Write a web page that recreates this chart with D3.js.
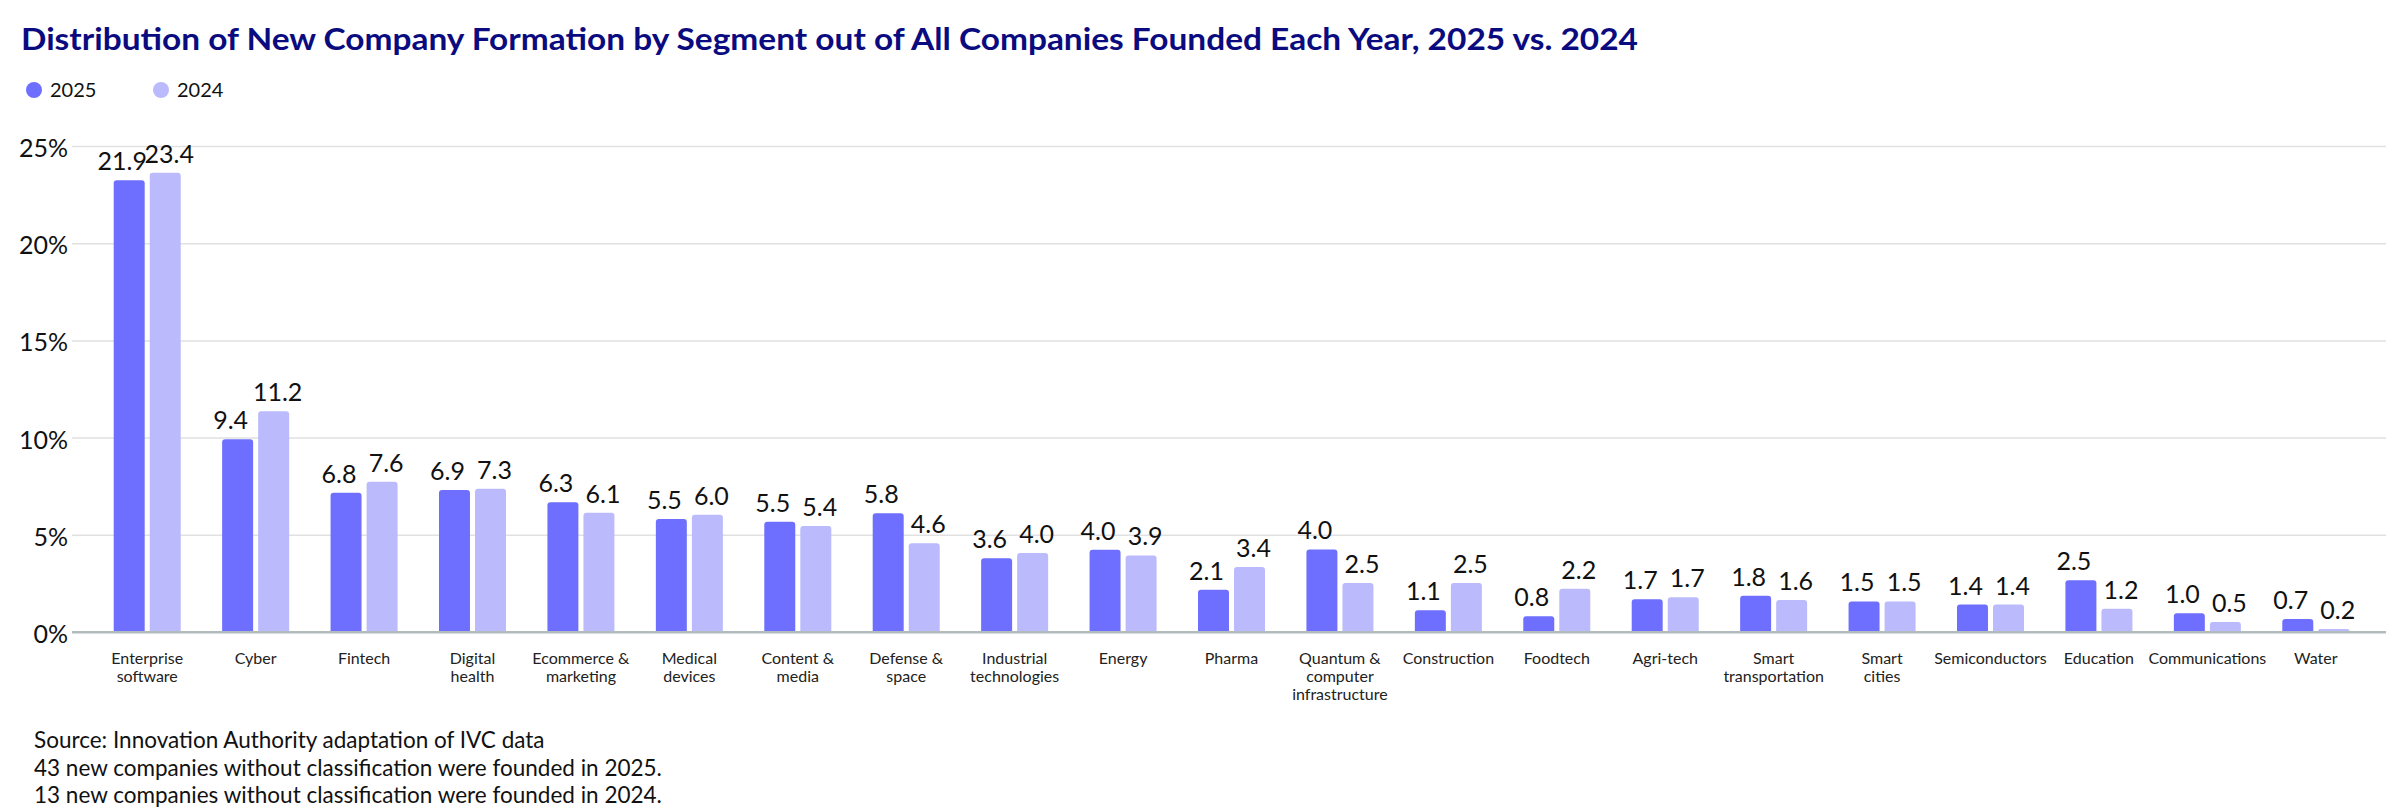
<!DOCTYPE html>
<html>
<head>
<meta charset="utf-8">
<script src="https://cdn.jsdelivr.net/npm/d3@7"></script>
<style>
  body { margin: 0; background: #fff; }
  svg { font-family: Lato, "Noto Sans", sans-serif; }
</style>
</head>
<body>
<svg id="chart"></svg>
<script>
//categories (| = line break)
var categories = ["Enterprise|software", "Cyber", "Fintech", "Digital|health", "Ecommerce &|marketing",
  "Medical|devices", "Content &|media", "Defense &|space", "Industrial|technologies", "Energy", "Pharma",
  "Quantum &|computer|infrastructure", "Construction", "Foodtech", "Agri-tech", "Smart|transportation",
  "Smart|cities", "Semiconductors", "Education", "Communications", "Water"];

//bar heights as drawn in the picture (%)
var values2025 = [23.24, 9.92, 7.16, 7.30, 6.67, 5.81, 5.67, 6.11, 3.79, 4.23, 2.17, 4.25, 1.12, 0.81, 1.69, 1.86, 1.57, 1.41, 2.66, 0.97, 0.67];
var values2024 = [23.62, 11.36, 7.73, 7.37, 6.13, 6.03, 5.45, 4.57, 4.06, 3.94, 3.35, 2.52, 2.52, 2.22, 1.79, 1.64, 1.57, 1.41, 1.19, 0.52, 0.16];

//printed value labels
var labels2025 = ["21.9", "9.4", "6.8", "6.9", "6.3", "5.5", "5.5", "5.8", "3.6", "4.0", "2.1", "4.0", "1.1", "0.8", "1.7", "1.8", "1.5", "1.4", "2.5", "1.0", "0.7"];
var labels2024 = ["23.4", "11.2", "7.6", "7.3", "6.1", "6.0", "5.4", "4.6", "4.0", "3.9", "3.4", "2.5", "2.5", "2.2", "1.7", "1.6", "1.5", "1.4", "1.2", "0.5", "0.2"];

var series = ["2025", "2024"];
var yTicks = [0, 5, 10, 15, 20, 25];

var title = "Distribution of New Company Formation by Segment out of All Companies Founded Each Year, 2025 vs. 2024";
var notes = ["Source: Innovation Authority adaptation of IVC data",
  "43 new companies without classification were founded in 2025.",
  "13 new companies without classification were founded in 2024."];

//canvas info
var width = 2400;
var height = 808;
var colors = {"2025": "#6f6fff", "2024": "#babafd"};

var svg = d3.select("#chart")
  .attr("width", width)
  .attr("height", height);

//title
svg.append("text")
  .attr("x", 21)
  .attr("y", 50)
  .attr("font-size", 31)
  .attr("font-weight", 700)
  .attr("fill", "#0b0b80")
  .attr("textLength", 1617)
  .attr("lengthAdjust", "spacingAndGlyphs")
  .text(title);

//legend
var legend = svg.append("g").selectAll("g")
  .data(series)
  .join("g")
  .attr("transform", function(d, i) { return "translate(" + (34 + i * 127) + ",90)"; });
legend.append("circle")
  .attr("r", 8)
  .attr("fill", function(d) { return colors[d]; });
legend.append("text")
  .attr("x", 16)
  .attr("dy", "0.36em")
  .attr("font-size", 20)
  .attr("fill", "#111")
  .text(function(d) { return d; });

//scales
var x = d3.scaleBand()
  .domain(categories)
  .range([93, 2370])
  .paddingInner(0.382)
  .paddingOuter(0.191);

var x1 = d3.scaleBand()
  .domain(series)
  .range([0, x.bandwidth()])
  .paddingInner(0.14);

var y = d3.scaleLinear()
  .domain([0, 25])
  .range([632, 146]);

//y axis + gridlines
var yAxis = svg.append("g")
  .attr("transform", "translate(72,0)")
  .call(d3.axisLeft(y).tickValues(yTicks).tickSize(-(2386 - 72)).tickPadding(4)
    .tickFormat(function(d) { return d + "%"; }));
yAxis.select(".domain").remove();
yAxis.selectAll("line")
  .attr("stroke", function(d) { return d == 0 ? "#b3bcbc" : "#e1e1e1"; })
  .attr("stroke-width", function(d) { return d == 0 ? 2 : 1.5; });
yAxis.selectAll("text")
  .attr("font-size", 25)
  .attr("font-family", "Lato, sans-serif")
  .attr("fill", "#111")
  .attr("dy", "0.42em");

//bar data
var rows = [];
for (var i = 0; i < categories.length; i++) {
  rows.push({cat: categories[i], key: "2025", v: values2025[i], label: labels2025[i]});
  rows.push({cat: categories[i], key: "2024", v: values2024[i], label: labels2024[i]});
}

//bar with rounded top corners
function barPath(d) {
  var x0 = x(d.cat) + x1(d.key);
  var w = x1.bandwidth();
  var top = y(d.v);
  var bottom = y(0);
  var r = Math.min(3, (bottom - top) / 2);
  return "M" + x0 + "," + bottom +
    "V" + (top + r) +
    "Q" + x0 + "," + top + " " + (x0 + r) + "," + top +
    "H" + (x0 + w - r) +
    "Q" + (x0 + w) + "," + top + " " + (x0 + w) + "," + (top + r) +
    "V" + bottom + "Z";
}

svg.append("g").selectAll("path")
  .data(rows)
  .join("path")
  .attr("d", barPath)
  .attr("fill", function(d) { return colors[d.key]; });

//redraw baseline on top of bars
svg.append("line")
  .attr("x1", 72).attr("x2", 2386)
  .attr("y1", y(0)).attr("y2", y(0))
  .attr("stroke", "#b3bcbc")
  .attr("stroke-width", 2);

//value labels (nudged apart a little so neighbours don't touch)
svg.append("g").selectAll("text")
  .data(rows)
  .join("text")
  .attr("x", function(d) { return x(d.cat) + x1(d.key) + x1.bandwidth() / 2 + (d.key == "2025" ? -7 : 4); })
  .attr("y", function(d) { return y(d.v) - 10; })
  .attr("text-anchor", "middle")
  .attr("font-size", 25)
  .attr("fill", "#111")
  .text(function(d) { return d.label; });

//x axis, labels split on |
var xAxis = svg.append("g")
  .attr("transform", "translate(0," + y(0) + ")")
  .call(d3.axisBottom(x).tickSize(0).tickPadding(0));
xAxis.select(".domain").remove();
xAxis.selectAll("text").each(function(d) {
  var t = d3.select(this);
  t.text(null)
    .attr("y", 0)
    .attr("dy", null)
    .attr("font-size", 16)
    .attr("font-family", "Lato, sans-serif")
    .attr("fill", "#222");
  d.split("|").forEach(function(line, j) {
    t.append("tspan")
      .attr("x", 0)
      .attr("y", 32 + j * 18)
      .text(line);
  });
});

//footer notes
svg.append("g").selectAll("text")
  .data(notes)
  .join("text")
  .attr("x", 34)
  .attr("y", function(d, i) { return 748 + i * 27.5; })
  .attr("font-size", 22.5)
  .attr("fill", "#111")
  .text(function(d) { return d; });
</script>
</body>
</html>
